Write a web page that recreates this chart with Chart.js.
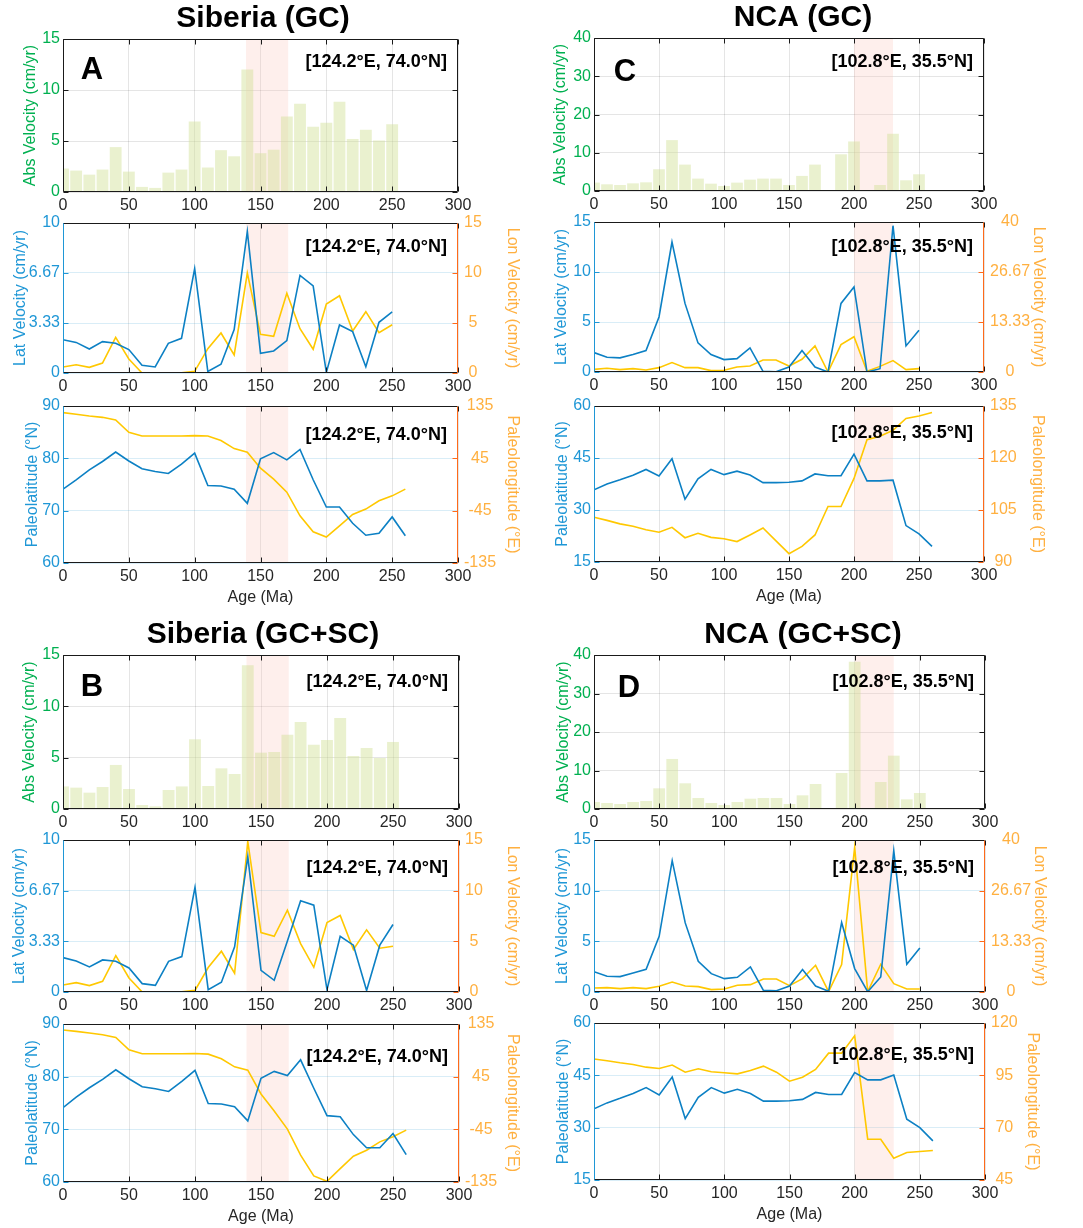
<!DOCTYPE html>
<html><head><meta charset="utf-8">
<script src="https://cdn.jsdelivr.net/npm/chart.js@4.4.0/dist/chart.umd.min.js"></script>
<style>
html,body{margin:0;padding:0;background:#fff}
body{width:1083px;height:1228px;position:relative;overflow:hidden}
canvas{position:absolute}
</style></head><body>
<script>
// ---------------- DATA ----------------
const velAges = [0,10,20,30,40,50,60,70,80,90,100,110,120,130,140,150,160,170,180,190,200,210,220,230,240,250];
const posAges = [0,10,20,30,40,50,60,70,80,90,100,110,120,130,140,150,160,170,180,190,200,210,220,230,240,250,260];
const xTickVals = [0,50,100,150,200,250,300];
const xTickLabels = ['0','50','100','150','200','250','300'];

// Panel A : Siberia (GC)
const absVelA  = [2.3,2.1,1.7,2.2,4.4,2.0,0.5,0.4,1.9,2.2,6.9,2.4,4.1,3.5,12.0,3.8,4.15,7.4,8.65,6.4,6.8,8.85,5.2,6.1,5.05,6.65];
const latVelA  = [2.22,2.04,1.6,2.09,1.98,1.56,0.51,0.4,1.98,2.31,6.96,0.1,0.58,2.9,9.44,1.31,1.47,2.16,6.51,5.8,0.04,3.2,2.76,0.42,3.38,4.07];
const lonVelA  = [0.6,0.83,0.57,1.0,3.57,1.4,0.0,0.0,0.03,0.03,0.17,2.43,4.0,1.8,10.0,3.87,3.67,7.97,4.43,2.37,6.9,7.73,4.2,6.13,4.03,4.83];
const paleoLatA = [74.1,75.9,77.8,79.4,81.2,79.5,78.0,77.5,77.1,78.9,81.0,74.8,74.7,74.1,71.4,79.9,81.1,79.7,81.7,75.9,70.7,70.7,67.6,65.3,65.7,68.8,65.2];
const paleoLonA = [123.6,120.7,117.8,115.5,111.0,89.8,83.5,83.5,83.5,83.5,84.0,83.5,75.5,61.8,55.5,28.0,9.2,-13.2,-53.8,-81.2,-90.4,-71.0,-51.5,-42.3,-28.0,-19.5,-8.0];

// Panel B : Siberia (GC+SC)
const absVelB  = [2.2,2.08,1.59,2.14,4.29,1.95,0.39,0.26,1.85,2.2,6.79,2.24,3.96,3.41,14.0,5.49,5.55,7.24,8.47,6.27,6.72,8.86,5.16,5.94,4.97,6.53];
const latVelB  = [2.26,2.04,1.65,2.11,2.02,1.58,0.55,0.44,2.02,2.33,6.88,0.15,0.64,2.97,8.9,1.43,0.77,3.36,6.0,5.71,0.15,3.67,3.08,0.1,3.08,4.44];
const lonVelB  = [0.69,0.92,0.63,1.05,3.59,1.38,0.0,0.0,0.03,0.03,0.16,2.41,4.02,1.85,14.84,5.87,5.5,8.08,4.78,2.44,6.86,7.55,4.19,6.13,4.32,4.52];
const paleoLatB = [74.1,76.1,77.9,79.5,81.3,79.6,78.1,77.7,77.2,79.1,81.2,74.9,74.8,74.3,71.6,79.7,81.0,80.2,83.2,77.8,72.6,72.4,69.0,66.5,66.5,69.2,65.2];
const paleoLonB = [124.7,122.4,119.6,116.7,112.1,91.0,84.1,84.1,84.1,84.1,84.7,83.5,75.5,61.8,56.1,15.4,-13.7,-44.6,-89.2,-124.7,-133.9,-112.1,-91.0,-80.7,-66.4,-57.8,-46.3];

// Panel C : NCA (GC)
const absVelC  = [2.2,1.75,1.57,2.0,2.27,5.69,13.3,6.9,3.24,1.92,1.31,2.19,2.97,3.24,3.24,1.57,3.94,6.9,null,9.6,12.95,null,1.57,14.96,2.8,4.37];
const latVelC  = [1.94,1.47,1.41,1.74,2.14,5.5,13.0,6.86,2.91,1.74,1.24,1.34,2.41,0.07,0.03,0.5,2.14,0.5,0.0,6.86,8.5,0.0,0.33,14.63,2.61,4.18];
const lonVelC  = [0.71,0.98,0.63,0.89,0.54,1.16,2.5,1.16,1.16,0.36,0.45,1.34,1.6,3.2,3.2,1.6,3.4,6.96,0.0,7.3,9.4,0.18,1.5,3.04,0.63,0.9];
const paleoLatC = [35.8,37.5,38.7,40.0,41.7,39.8,44.8,33.1,39.0,41.7,40.2,41.2,40.1,37.9,37.9,38.0,38.4,40.4,39.9,39.9,46.1,38.4,38.4,38.6,25.5,23.1,19.5];
const paleoLonC = [102.9,102.0,101.0,100.3,99.3,98.6,100.0,97.0,98.3,97.1,96.7,95.9,97.8,99.8,96.1,92.4,94.5,97.8,106.0,106.0,114.1,125.3,126.3,128.0,131.4,132.1,133.1];

// Panel D : NCA (GC+SC)
const absVelD  = [1.82,1.56,1.3,1.82,2.08,5.37,13.0,6.67,2.86,1.56,1.04,1.82,2.68,2.86,2.86,1.3,3.55,6.49,null,9.35,38.27,null,7.01,13.85,2.51,4.16];
const latVelD  = [2.01,1.55,1.52,1.88,2.24,5.5,12.96,6.82,3.03,1.81,1.32,1.45,2.47,0.16,0.13,0.59,2.21,0.59,0.07,6.86,2.31,0.03,1.48,13.95,2.74,4.35];
const lonVelD  = [1.05,1.14,0.88,1.14,0.88,1.49,2.64,1.58,1.41,0.62,0.79,1.76,1.93,3.43,3.43,1.67,3.52,7.03,0.09,7.21,38.07,0.09,7.3,2.2,0.79,0.79];
const paleoLatD = [35.4,37.1,38.4,39.8,41.5,39.4,44.5,32.6,38.7,41.5,39.9,41.0,39.8,37.6,37.6,37.7,38.1,40.1,39.5,39.5,45.8,43.7,43.7,45.1,32.4,30.0,26.2];
const paleoLonD = [102.8,102.0,101.0,100.2,98.9,98.3,99.9,96.5,98.1,96.7,96.2,95.7,97.3,99.4,96.5,92.2,94.1,97.8,105.6,105.6,113.9,64.5,64.5,55.4,58.1,58.6,59.1];

// Tick values / labels
const absTicksSib = [0,5,10,15];          const absTickLabelsSib = ['0','5','10','15'];
const absTicksNCA = [0,10,20,30,40];      const absTickLabelsNCA = ['0','10','20','30','40'];
const latVelTicksSib = [0,3.3333,6.6667,10]; const latVelTickLabelsSib = ['0','3.33','6.67','10'];
const lonVelTicksSib = [0,5,10,15];       const lonVelTickLabelsSib = ['0','5','10','15'];
const latVelTicksNCA = [0,5,10,15];       const latVelTickLabelsNCA = ['0','5','10','15'];
const lonVelTicksNCA = [0,13.3333,26.6667,40]; const lonVelTickLabelsNCA = ['0','13.33','26.67','40'];
const paleoLatTicksSib = [60,70,80,90];   const paleoLatTickLabelsSib = ['60','70','80','90'];
const paleoLonTicksSib = [-135,-45,45,135]; const paleoLonTickLabelsSib = ['-135','-45','45','135'];
const paleoLatTicksNCA = [15,30,45,60];   const paleoLatTickLabelsNCA = ['15','30','45','60'];
const paleoLonTicksC = [90,105,120,135];  const paleoLonTickLabelsC = ['90','105','120','135'];
const paleoLonTicksD = [45,70,95,120];    const paleoLonTickLabelsD = ['45','70','95','120'];

const shadeSib = [139,171];
const shadeNCA = [200,230];

// ---------------- STYLE ----------------
const FAM = "'Liberation Sans', Arial, Helvetica, sans-serif";
const COL = {
  green:'#00b050', blueLine:'#0c80c4', blueText:'#1f97d6', yellow:'#ffc800',
  orangeText:'#ffb040', orangeAxis:'#ff6a1a', black:'#1a1a1a', tick:'#262626',
  grid:'rgba(0,0,0,0.10)', gridBlue:'rgba(30,150,210,0.17)',
  bar:'rgba(208,225,148,0.45)', shade:'rgba(250,190,175,0.24)'
};
Chart.defaults.font.family = FAM;
Chart.defaults.animation = false;

const decor = {
  id:'decor',
  beforeDatasetsDraw(chart, args, o){
    if(!o || !o.shade) return;
    const {ctx, chartArea:a, scales:{x}} = chart;
    const x0 = x.getPixelForValue(o.shade[0]), x1 = x.getPixelForValue(o.shade[1]);
    ctx.save(); ctx.fillStyle = COL.shade; ctx.fillRect(x0, a.top, x1-x0, a.bottom-a.top); ctx.restore();
  },
  afterDatasetsDraw(chart, args, o){
    if(!o || !o.frame) return;
    const {ctx, chartArea:a, scales} = chart;
    ctx.save();
    ctx.lineWidth = 1;
    const L = Math.round(a.left)+0.5, R = Math.round(a.right)-0.5, T = Math.round(a.top)+0.5, B = Math.round(a.bottom)-0.5;
    const seg = (x1,y1,x2,y2,c)=>{ctx.strokeStyle=c;ctx.beginPath();ctx.moveTo(x1,y1);ctx.lineTo(x2,y2);ctx.stroke();};
    const tl = 5;
    scales.x.ticks.forEach(t=>{const p=Math.round(scales.x.getPixelForValue(t.value))+0.5; seg(p,B,p,B-tl,o.frame.b); seg(p,T,p,T+tl,o.frame.t);});
    scales.y.ticks.forEach(t=>{const p=Math.round(scales.y.getPixelForValue(t.value))+0.5; seg(L,p,L+tl,p,o.frame.l);});
    const rs = scales[o.rightScale];
    rs.ticks.forEach(t=>{const p=Math.round(rs.getPixelForValue(t.value))+0.5; seg(R,p,R-tl,p,o.frame.r);});
    seg(L,T,R,T,o.frame.t); seg(L,B,R,B,o.frame.b); seg(L,T,L,B,o.frame.l); seg(R,T,R,B,o.frame.r);
    (o.texts||[]).forEach(tx=>{
      ctx.font = tx.font; ctx.fillStyle = tx.color || '#000';
      ctx.textAlign = tx.align; ctx.textBaseline = 'middle';
      const x = (tx.ax==='right' ? a.right : a.left) + tx.dx;
      ctx.fillText(tx.text, x, a.top + tx.dy);
    });
    ctx.restore();
  }
};
Chart.register(decor);

function fixedTicks(vals, labels){
  return {
    afterBuildTicks: s => { s.ticks = vals.map(v=>({value:v})); },
    cb: (v,i) => labels[i]
  };
}

function addChart(cfg){
  const cTop = cfg.plotT - cfg.topPad;
  const cBot = cfg.plotB + cfg.xHeight;
  const W = cfg.canvasR - cfg.canvasL, H = cBot - cTop;
  const cv = document.createElement('canvas');
  cv.width = W; cv.height = H;
  cv.style.left = cfg.canvasL+'px'; cv.style.top = cTop+'px';
  cv.style.width = W+'px'; cv.style.height = H+'px';
  document.body.appendChild(cv);
  const yW = cfg.plotL - cfg.canvasL, y2W = cfg.canvasR - cfg.plotR;
  const xt = fixedTicks(xTickVals, xTickLabels);
  const yt = fixedTicks(cfg.y.ticks, cfg.y.labels);
  const y2t = fixedTicks(cfg.y2.ticks, cfg.y2.labels);
  const tickFont = {size:16, family:FAM};
  new Chart(cv, {
    data:{datasets: cfg.datasets},
    options:{
      responsive:false, animation:false, events:[],
      layout:{padding:{top: cfg.title ? 0 : cfg.topPad, left:0, right:0, bottom:0}},
      plugins:{
        legend:{display:false}, tooltip:{enabled:false},
        title: cfg.title ? {display:true, text:cfg.title, color:'#000', font:{size:30, weight:'bold', family:FAM}, padding:{top:1, bottom:cfg.topPad-36-1}} : {display:false},
        decor: cfg.decor
      },
      scales:{
        x:{type:'linear', min:0, max:300, offset:false, position:'bottom',
           afterBuildTicks: xt.afterBuildTicks,
           afterFit: s=>{ s.height = cfg.xHeight; },
           ticks:{callback: xt.cb, color:COL.tick, font:tickFont, padding:4, maxRotation:0, autoSkip:false},
           grid:{color:COL.grid, drawTicks:false, offset:false},
           border:{display:false},
           title: cfg.xTitle ? {display:true, text:cfg.xTitle, color:COL.tick, font:{size:16,family:FAM}, padding:{top:0,bottom:1.4}} : {display:false}},
        y:{type:'linear', position:'left', min:cfg.y.ticks[0], max:cfg.y.ticks[cfg.y.ticks.length-1],
           afterBuildTicks: yt.afterBuildTicks,
           afterFit: s=>{ s.width = yW; },
           ticks:{callback: yt.cb, color:cfg.y.color, font:tickFont, padding:3},
           grid:{color:cfg.y.grid, drawTicks:false},
           border:{display:false},
           title:{display:true, text:cfg.y.title, color:cfg.y.color, font:{size:16,family:FAM}, padding:{top:cfg.y.tpad, bottom:0}}},
        y2:{type:'linear', position:'right', min:cfg.y2.ticks[0], max:cfg.y2.ticks[cfg.y2.ticks.length-1],
           afterBuildTicks: y2t.afterBuildTicks,
           afterFit: s=>{ s.width = y2W; },
           ticks:{display: !!cfg.y2.title, callback: y2t.cb, color:cfg.y2.color, font:tickFont, padding:6, crossAlign:'center'},
           grid:{drawOnChartArea:false, drawTicks:false},
           border:{display:false},
           title: cfg.y2.title ? {display:true, text:cfg.y2.title, color:cfg.y2.color, font:{size:16,family:FAM}, padding:{top:cfg.y2.tpad, bottom:0}} : {display:false}}
      }
    }
  });
}

const pts = (xs, ys) => xs.map((x,i)=>({x:x, y:ys[i]}));

function panel(p){
  const boldCoord = 'bold 18px '+FAM;
  const frameBar = {l:COL.black, r:COL.black, t:COL.black, b:COL.black};
  const frameLine = {l:COL.blueText, r:COL.orangeAxis, t:COL.black, b:COL.black};
  // bar subplot
  addChart({
    canvasL:p.cL, canvasR:p.cR, plotL:p.pL, plotR:p.pR, plotT:p.rows[0][0], plotB:p.rows[0][1],
    topPad:39, xHeight:25, title:p.title,
    y:{ticks:p.absTicks, labels:p.absLabels, color:COL.green, grid:COL.grid, title:'Abs Velocity (cm/yr)', tpad:p.ytp[0]},
    y2:{ticks:p.absTicks, labels:p.absLabels, color:COL.green},
    datasets:[{type:'bar', data:pts(velAges, p.abs), xAxisID:'x', yAxisID:'y', backgroundColor:COL.bar, borderWidth:0, barPercentage:0.9, categoryPercentage:1.0}],
    decor:{shade:p.shade, frame:frameBar, rightScale:'y', texts:[
      {text:p.coord, ax:'right', dx:-11, dy:p.tdy[0], font:boldCoord, align:'right'},
      {text:p.letter, ax:'left', dx:p.letterPos[0], dy:p.letterPos[1], font:'bold 31px '+FAM, align:'center'}
    ]}
  });
  // velocity subplot
  addChart({
    canvasL:p.cL, canvasR:p.cR, plotL:p.pL, plotR:p.pR, plotT:p.rows[1][0], plotB:p.rows[1][1],
    topPad:20, xHeight:25,
    y:{ticks:p.latVTicks, labels:p.latVLabels, color:COL.blueText, grid:COL.gridBlue, title:'Lat Velocity (cm/yr)', tpad:p.ytp[1]},
    y2:{ticks:p.lonVTicks, labels:p.lonVLabels, color:COL.orangeText, title:'Lon Velocity (cm/yr)', tpad:p.y2tp[0]},
    datasets:[
      {type:'line', data:pts(velAges, p.latV), yAxisID:'y', borderColor:COL.blueLine, borderWidth:1.6, pointRadius:0, tension:0, order:1},
      {type:'line', data:pts(velAges, p.lonV), yAxisID:'y2', borderColor:COL.yellow, borderWidth:1.6, pointRadius:0, tension:0, order:2}
    ],
    decor:{shade:p.shade, frame:frameLine, rightScale:'y2', texts:[
      {text:p.coord, ax:'right', dx:-11, dy:p.tdy[1], font:boldCoord, align:'right'}
    ]}
  });
  // position subplot
  addChart({
    canvasL:p.cL, canvasR:p.cR, plotL:p.pL, plotR:p.pR, plotT:p.rows[2][0], plotB:p.rows[2][1],
    topPad:20, xHeight:46, xTitle:'Age (Ma)',
    y:{ticks:p.latPTicks, labels:p.latPLabels, color:COL.blueText, grid:COL.gridBlue, title:'Paleolatitude (°N)', tpad:p.ytp[2]},
    y2:{ticks:p.lonPTicks, labels:p.lonPLabels, color:COL.orangeText, title:'Paleolongitude (°E)', tpad:p.y2tp[1]},
    datasets:[
      {type:'line', data:pts(posAges, p.latP), yAxisID:'y', borderColor:COL.blueLine, borderWidth:1.6, pointRadius:0, tension:0, order:1},
      {type:'line', data:pts(posAges, p.lonP), yAxisID:'y2', borderColor:COL.yellow, borderWidth:1.6, pointRadius:0, tension:0, order:2}
    ],
    decor:{shade:p.shade, frame:frameLine, rightScale:'y2', texts:[
      {text:p.coord, ax:'right', dx:-11, dy:p.tdy[2], font:boldCoord, align:'right'}
    ]}
  });
}

const coordSib = '[124.2°E, 74.0°N]';
const coordNCA = '[102.8°E, 35.5°N]';

panel({title:'Siberia (GC)', letter:'A', coord:coordSib, shade:shadeSib,
  cL:-14, cR:540, pL:63, pR:458, rows:[[39,192],[223,373],[406,563]],
  ytp:[35.4,24.5,37.4], y2tp:[18.4,18.4], tdy:[23,24,29], letterPos:[29,31],
  abs:absVelA, latV:latVelA, lonV:lonVelA, latP:paleoLatA, lonP:paleoLonA,
  absTicks:absTicksSib, absLabels:absTickLabelsSib,
  latVTicks:latVelTicksSib, latVLabels:latVelTickLabelsSib, lonVTicks:lonVelTicksSib, lonVLabels:lonVelTickLabelsSib,
  latPTicks:paleoLatTicksSib, latPLabels:paleoLatTickLabelsSib, lonPTicks:paleoLonTicksSib, lonPLabels:paleoLonTickLabelsSib});

panel({title:'NCA (GC)', letter:'C', coord:coordNCA, shade:shadeNCA,
  cL:523, cR:1083, pL:594, pR:984, rows:[[38,191],[222,372],[406,562]],
  ytp:[28.4,29.4,30.4], y2tp:[35.4,36.4], tdy:[24,25,27], letterPos:[31,34],
  abs:absVelC, latV:latVelC, lonV:lonVelC, latP:paleoLatC, lonP:paleoLonC,
  absTicks:absTicksNCA, absLabels:absTickLabelsNCA,
  latVTicks:latVelTicksNCA, latVLabels:latVelTickLabelsNCA, lonVTicks:lonVelTicksNCA, lonVLabels:lonVelTickLabelsNCA,
  latPTicks:paleoLatTicksNCA, latPLabels:paleoLatTickLabelsNCA, lonPTicks:paleoLonTicksC, lonPLabels:paleoLonTickLabelsC});

panel({title:'Siberia (GC+SC)', letter:'B', coord:coordSib, shade:shadeSib,
  cL:-14, cR:540, pL:63, pR:459, rows:[[655,809],[840,992],[1024,1182]],
  ytp:[34.4,23.5,37.4], y2tp:[18.4,18.4], tdy:[27,28,33], letterPos:[29,32],
  abs:absVelB, latV:latVelB, lonV:lonVelB, latP:paleoLatB, lonP:paleoLonB,
  absTicks:absTicksSib, absLabels:absTickLabelsSib,
  latVTicks:latVelTicksSib, latVLabels:latVelTickLabelsSib, lonVTicks:lonVelTicksSib, lonVLabels:lonVelTickLabelsSib,
  latPTicks:paleoLatTicksSib, latPLabels:paleoLatTickLabelsSib, lonPTicks:paleoLonTicksSib, lonPLabels:paleoLonTickLabelsSib});

panel({title:'NCA (GC+SC)', letter:'D', coord:coordNCA, shade:shadeNCA,
  cL:523, cR:1083, pL:594, pR:985, rows:[[655,809],[840,992],[1023,1180]],
  ytp:[31.4,30.4,31.4], y2tp:[34.4,41.4], tdy:[27,28,32], letterPos:[35,33],
  abs:absVelD, latV:latVelD, lonV:lonVelD, latP:paleoLatD, lonP:paleoLonD,
  absTicks:absTicksNCA, absLabels:absTickLabelsNCA,
  latVTicks:latVelTicksNCA, latVLabels:latVelTickLabelsNCA, lonVTicks:lonVelTicksNCA, lonVLabels:lonVelTickLabelsNCA,
  latPTicks:paleoLatTicksNCA, latPLabels:paleoLatTickLabelsNCA, lonPTicks:paleoLonTicksD, lonPLabels:paleoLonTickLabelsD});
</script>
</body></html>
